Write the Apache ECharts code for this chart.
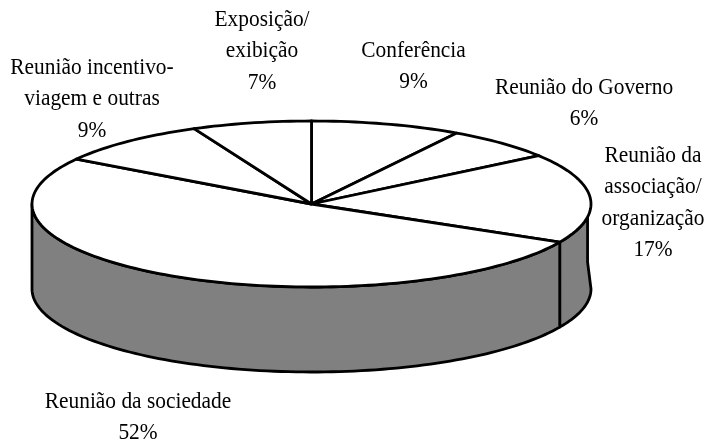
<!DOCTYPE html>
<html><head><meta charset="utf-8">
<style>html,body{margin:0;padding:0;background:#fff}#c{width:706px;height:441px}</style>
<script src="https://cdn.jsdelivr.net/npm/echarts@6/dist/echarts.min.js"></script>
</head><body><div id="c"></div>
<script>
const categories = ["Conferência","Reunião do Governo","Reunião da associação/organização","Reunião da sociedade","Reunião incentivo-viagem e outras","Exposição/exibição"];
const shares = [8.7,6.4,17.5,51.5,9.0,6.9];
const labelLines = [["Conferência","9%"],["Reunião do Governo","6%"],["Reunião da","associação/","organização","17%"],["Reunião da sociedade","52%"],["Reunião incentivo-","viagem e outras","9%"],["Exposição/","exibição","7%"]];

const cx=311.5, cy=204, rx=279.5, ry=83, depth=85;
const labelBaseline=[[413.5,58],[584,95],[653,163],[138,409],[92,75],[262,27]];
const lineStep=31.3, baselineShift=7, fontScaleX=0.93;
const total=shares.reduce((a,b)=>a+b,0);
const pt=(deg,dy=0)=>{const t=deg*Math.PI/180;return [cx+rx*Math.sin(t),cy-ry*Math.cos(t)+dy];};
const arc=(a,b,dy=0)=>{const n=Math.max(2,Math.ceil(Math.abs(b-a)/1.5));const r=[];for(let i=0;i<=n;i++)r.push(pt(a+(b-a)*i/n,dy));return r;};
const line={stroke:'#000',lineWidth:2.8,lineJoin:'round'};
const edgeAngle=99;

function renderItem(params,api){
  const i=params.dataIndex;
  let before=0;for(let k=0;k<i;k++)before+=shares[k];
  const a=before/total*360, b=(before+api.value(0))/total*360;
  const children=[];
  const wa=Math.max(a,90), wb=Math.min(b,270);
  if(wb>wa){
    const startsAtEdge=wa===90;
    const top=arc(startsAtEdge?edgeAngle:wa,wb), bottom=arc(wb,wa,depth);
    const extra=startsAtEdge?[pt(edgeAngle,45)]:[];
    children.push({type:'polygon',z2:1,shape:{points:top.concat(bottom,extra)},style:Object.assign({fill:'#808080'},line)});
  }
  children.push({type:'polygon',z2:2,shape:{points:[[cx,cy]].concat(arc(a,b))},style:Object.assign({fill:'#fff'},line)});
  const [lx,ly]=labelBaseline[i];
  labelLines[i].forEach((t,j)=>{
    children.push({type:'text',z2:3,x:lx,y:ly-baselineShift+j*lineStep,scaleX:fontScaleX,
      style:{text:t,x:0,y:0,align:'center',verticalAlign:'middle',fill:'#000',font:'23px "Liberation Serif"'}});
  });
  return {type:'group',children};
}
const chart=echarts.init(document.getElementById('c'),null,{renderer:'canvas'});
chart.setOption({animation:false,
  series:[{type:'custom',coordinateSystem:'none',silent:true,renderItem,
    data:shares.map((v,i)=>({name:categories[i],value:[v]}))}]});
</script></body></html>
